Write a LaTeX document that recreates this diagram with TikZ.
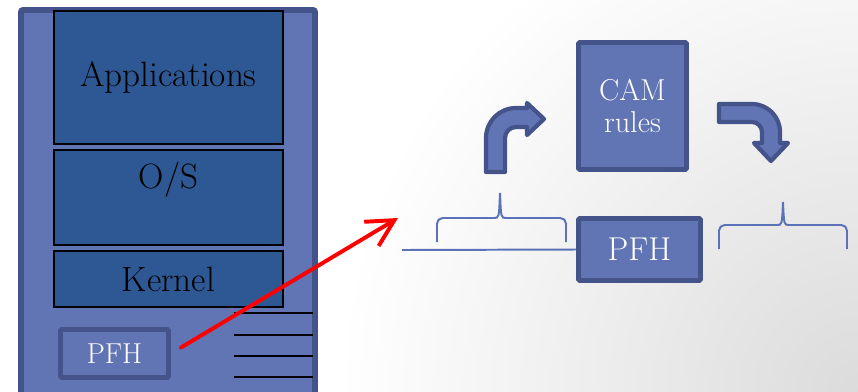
\documentclass[tikz,border=0pt]{standalone}
\usetikzlibrary{fit,arrows.meta}
\definecolor{slate}{RGB}{97,116,180}
\definecolor{slateedge}{RGB}{68,84,138}
\definecolor{navy}{RGB}{46,88,148}
\definecolor{bracecol}{RGB}{91,114,184}
\begin{document}
\begin{tikzpicture}[x=0.025cm,y=-0.025cm,
  panel/.style={draw=slateedge,fill=slate,line width=4.2pt,rounded corners=1.5pt,inner sep=0pt},
  layer/.style={draw=black,fill=navy,line width=1.4pt,inner sep=0pt},
  chip/.style={draw=slateedge,fill=slate,line width=3.5pt,rounded corners=1pt,inner sep=0pt},
  big/.style={font=\fontsize{25}{28}\selectfont},
  light/.style={text=white,align=center},
  flow/.style={draw=slateedge,fill=slate,line width=3pt,line join=round},
  curly/.style={draw=bracecol,line width=1.4pt},
  hit/.style={draw=red,line width=2.8pt,line cap=round,-{Straight Barb[length=19pt,width=20pt]}}]
  \useasboundingbox (0,0) rectangle (858,391);
  \clip (0,0) rectangle (858,391);
  \fill[white] (0,0) rectangle (858,391);
  \shade[inner color=black!14,outer color=white] (858,391) circle (520);
  % host with its layers
  \node[panel,fit={(21,10) (315,410)}] (host) {};
  \node[layer,fit={(54,11) (283,144)},label={[big]center:Applications}] (apps) {};
  \node[layer,fit={(54,150) (283,245)},label={[big,yshift=12.5pt]center:O/S}] (os) {};
  \node[layer,fit={(54,251) (283,307)},label={[big]center:Kernel}] (kernel) {};
  \node[chip,fit={(60.5,329.5) (168.5,377.5)},
    label={[light,font=\fontsize{20.5}{23}\selectfont]center:PFH}] (pfhL) {};
  \foreach \y in {313,335,356,377}
    \draw[black,line width=1.4pt] (234,\y) -- (313,\y);
  % packet path
  \node[chip,fit={(578.5,42.5) (686.5,169.5)},
    label={[light,font=\fontsize{21.5}{22.7}\selectfont]center:CAM\\rules}] (cam) {};
  \node[chip,fit={(578.5,218.5) (700.5,280.5)},
    label={[light,font=\fontsize{23.5}{26}\selectfont]center:PFH}] (pfhR) {};
  \coordinate (feed) at (402,250);
  \coordinate (aim) at (398,218);
  \draw[curly] (feed) -- (pfhR.west);
  \draw[hit,shorten <=8pt] (pfhL.east) -- (aim);
  % braces
  \draw[curly,rounded corners=4pt] (437,242) |- (494,218);
  \draw[curly] (494,218) .. controls (499,218) .. (500,193) .. controls (501,218) .. (506,218);
  \draw[curly,rounded corners=4pt] (506,218) -| (566,242);
  \draw[curly,rounded corners=4pt] (719,249) |- (777,225);
  \draw[curly] (777,225) .. controls (782,225) .. (783,202) .. controls (784,225) .. (789,225);
  \draw[curly,rounded corners=4pt] (789,225) -| (847,249);
  % bent arrows
  \draw[flow] (486,172) -- (486,138) .. controls (486,121.4) and (499.4,108) .. (516,108)
    -- (527,108) -- (527,103) -- (544,119) -- (527,135) -- (527,127) -- (516,127)
    .. controls (509.9,127) and (505,131.9) .. (505,138) -- (505,172) -- cycle;
  \draw[flow] (719,104) -- (752,104) .. controls (767.5,104) and (780,116.5) .. (780,132)
    -- (780,143) -- (788,143) -- (771,161) -- (754,143) -- (762,143) -- (762,132)
    .. controls (762,126.5) and (757.5,122) .. (752,122) -- (719,122) -- cycle;
\end{tikzpicture}
\end{document}
